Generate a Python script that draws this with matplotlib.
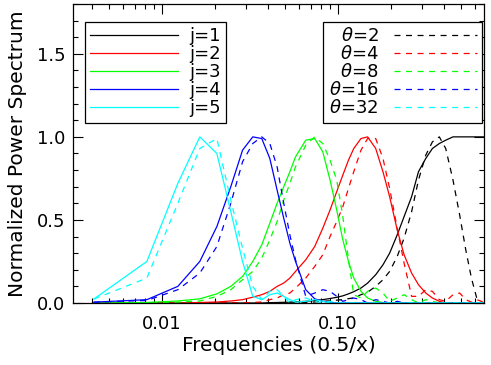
import matplotlib
matplotlib.use("Agg")
import matplotlib.pyplot as plt
from matplotlib.ticker import FixedLocator, MultipleLocator, NullFormatter

plt.rcParams["font.family"] = ["DejaVu Sans"]
plt.rcParams["font.size"] = 13
plt.rcParams["mathtext.fontset"] = "dejavusans"
plt.rcParams["lines.scale_dashes"] = False

# frequency grid (0.5/x)
freqs = [0.0041, 0.0082, 0.0123, 0.0164, 0.0205, 0.0246, 0.0287, 0.0328,
         0.0369, 0.0410, 0.0451, 0.0492, 0.0533, 0.0574, 0.0656, 0.0738,
         0.0820, 0.0902, 0.0984, 0.1066, 0.1148, 0.1230, 0.1352, 0.1475,
         0.1639, 0.1803, 0.1967, 0.2172, 0.2377, 0.2623, 0.2869, 0.3156,
         0.3443, 0.3770, 0.4098, 0.4508, 0.4918, 0.5328, 0.5738, 0.6148,
         0.6557, 0.6762]

# solid curves, scales j = 1..5
j1 = [0, 0, 0, 0, 0, 0, 0, 0, 0, 0.002, 0.003, 0.004, 0.005, 0.007, 0.010,
      0.015, 0.020, 0.027, 0.034, 0.043, 0.055, 0.068, 0.09, 0.12, 0.17, 0.23,
      0.30, 0.41, 0.52, 0.64, 0.79, 0.87, 0.93, 0.96, 0.98, 1.0, 1.0, 1.0,
      1.0, 1.0, 1.0, 1.0]
j2 = [0, 0, 0, 0.003, 0.006, 0.012, 0.02, 0.035, 0.05, 0.07, 0.10, 0.12,
      0.15, 0.19, 0.26, 0.34, 0.45, 0.56, 0.67, 0.77, 0.86, 0.93, 0.99, 1.0,
      0.93, 0.79, 0.64, 0.44, 0.29, 0.18, 0.11, 0.06, 0.03, 0.01, 0, 0, 0, 0,
      0, 0, 0, 0]
j3 = [0, 0.003, 0.012, 0.025, 0.055, 0.10, 0.16, 0.25, 0.35, 0.48, 0.60,
      0.70, 0.79, 0.88, 0.98, 0.99, 0.91, 0.74, 0.56, 0.38, 0.25, 0.15, 0.07,
      0.03, 0.01, 0.003, 0, 0, 0, 0, 0, 0, 0, 0, 0, 0, 0, 0, 0, 0, 0, 0]
j4 = [0.005, 0.02, 0.10, 0.25, 0.46, 0.70, 0.92, 1.0, 0.99, 0.87, 0.68,
      0.51, 0.36, 0.25, 0.08, 0.025, 0.01, 0.005, 0, 0, 0, 0, 0, 0, 0, 0, 0,
      0, 0, 0, 0, 0, 0, 0, 0, 0, 0, 0, 0, 0, 0, 0]
j5 = [0.024, 0.25, 0.72, 1.0, 0.90, 0.55, 0.25, 0.04, 0.02, 0.05, 0.06,
      0.04, 0.02, 0.005, 0.01, 0.02, 0.01, 0, 0, 0, 0, 0, 0, 0, 0, 0, 0, 0,
      0, 0, 0, 0, 0, 0, 0, 0, 0, 0, 0, 0, 0, 0]

# dashed curves, theta = 2..32
t2 = [0, 0, 0, 0, 0, 0, 0, 0, 0, 0, 0, 0, 0, 0, 0.003, 0.006, 0.010, 0.013,
      0.017, 0.021, 0.026, 0.031, 0.05, 0.065, 0.10, 0.14, 0.19, 0.28, 0.39,
      0.55, 0.74, 0.89, 0.97, 1.0, 0.93, 0.74, 0.53, 0.32, 0.15, 0.03, 0, 0]
t4 = [0, 0, 0, 0, 0, 0, 0, 0.003, 0.006, 0.02, 0.03, 0.05, 0.06, 0.09, 0.15,
      0.22, 0.29, 0.40, 0.49, 0.58, 0.69, 0.79, 0.92, 0.99, 0.99, 0.87, 0.69,
      0.45, 0.24, 0.04, 0.04, 0.08, 0.07, 0.02, 0.01, 0.05, 0.06, 0.02, 0.005,
      0.02, 0.01, 0]
t8 = [0, 0, 0.005, 0.012, 0.04, 0.08, 0.14, 0.19, 0.27, 0.38, 0.49, 0.62,
      0.72, 0.82, 0.95, 1.0, 0.96, 0.86, 0.74, 0.52, 0.26, 0.05, 0.03, 0.07,
      0.09, 0.06, 0.01, 0.03, 0.05, 0.02, 0, 0.02, 0.01, 0, 0, 0, 0, 0, 0, 0,
      0, 0]
t16 = [0.005, 0.015, 0.08, 0.18, 0.34, 0.60, 0.85, 0.96, 1.0, 0.96, 0.82,
       0.60, 0.41, 0.26, 0.04, 0.06, 0.08, 0.07, 0.04, 0.01, 0.02, 0.03, 0.02,
       0, 0.02, 0.01, 0, 0.01, 0, 0, 0, 0, 0, 0, 0, 0, 0, 0, 0, 0, 0, 0]
t32 = [0.024, 0.15, 0.60, 0.93, 0.99, 0.62, 0.33, 0.10, 0.02, 0.07, 0.08,
       0.04, 0, 0.02, 0.03, 0.01, 0, 0.01, 0, 0, 0, 0, 0, 0, 0, 0, 0, 0, 0, 0,
       0, 0, 0, 0, 0, 0, 0, 0, 0, 0, 0, 0]

solid_curves = [j1, j2, j3, j4, j5]
dashed_curves = [t2, t4, t8, t16, t32]
j_labels = ["j=1", "j=2", "j=3", "j=4", "j=5"]
theta_labels = [r"$\theta$=2", r"$\theta$=4", r"$\theta$=8",
                r"$\theta$=16", r"$\theta$=32"]
colors = ["black", "#ff0000", "#00ff00", "#0000ff", "#00ffff"]

fig = plt.figure(figsize=(4.91, 3.65), dpi=100)
ax = fig.add_axes([0.1487, 0.1699, 0.8370, 0.8192])

solid_lines = []
dashed_lines = []
for sc, dc, col in zip(solid_curves, dashed_curves, colors):
    (ls,) = ax.plot(freqs, sc, color=col, lw=0.9, clip_on=False)
    (ld,) = ax.plot(freqs, dc, color=col, lw=0.9, dashes=(4.3, 4.0),
                    clip_on=False)
    solid_lines.append(ls)
    dashed_lines.append(ld)

ax.set_xscale("log")
ax.set_xlim(0.00312, 0.6762)
ax.set_ylim(0, 1.8)

ax.xaxis.set_major_locator(FixedLocator([0.01, 0.1]))
ax.set_xticklabels(["0.01", "0.10"])
minors = [m * d for d in (0.001, 0.01, 0.1) for m in range(2, 10)]
ax.xaxis.set_minor_locator(FixedLocator(minors))
ax.xaxis.set_minor_formatter(NullFormatter())
ax.yaxis.set_major_locator(FixedLocator([0, 0.5, 1.0, 1.5]))
ax.set_yticklabels(["0.0", "0.5", "1.0", "1.5"])
ax.yaxis.set_minor_locator(MultipleLocator(0.1))

ax.tick_params(which="both", direction="in", top=True, right=True,
               width=0.8, color="black")
ax.tick_params(which="major", length=7.2)
ax.tick_params(which="minor", length=3.6)
ax.tick_params(axis="x", which="major", pad=8.5)
ax.tick_params(axis="y", which="major", pad=5.5)
for sp in ax.spines.values():
    sp.set_linewidth(0.9)

ax.set_xlabel("Frequencies (0.5/x)", fontsize=14.5, labelpad=2)
ax.set_ylabel("Normalized Power Spectrum", fontsize=14.5, labelpad=7)

leg1 = ax.legend(solid_lines, j_labels, loc="upper left",
                 bbox_to_anchor=(0.0292, 0.9408), borderaxespad=0,
                 fancybox=False, edgecolor="black", framealpha=1,
                 borderpad=0.3, labelspacing=0.0, handlelength=4.85,
                 handletextpad=0.6, fontsize=13)
leg1.get_frame().set_linewidth(0.9)
ax.add_artist(leg1)

leg2 = ax.legend(dashed_lines, theta_labels, loc="upper right",
                 bbox_to_anchor=(0.9959, 0.9408), borderaxespad=0,
                 fancybox=False, edgecolor="black", framealpha=1,
                 borderpad=0.3, labelspacing=0.0, handlelength=4.6,
                 handletextpad=0.85, markerfirst=False, fontsize=13)
leg2.get_frame().set_linewidth(0.9)

fig.savefig("out.png", dpi=100)
